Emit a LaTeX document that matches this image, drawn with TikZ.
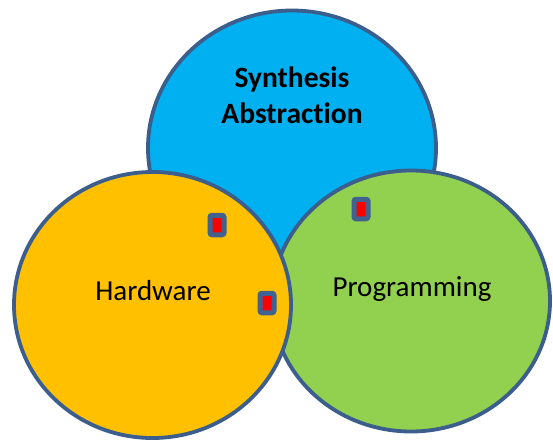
\documentclass[tikz,border=0pt]{standalone}
\usepackage{fontspec}
\setmainfont[Ligatures=NoCommon]{Carlito}
\usetikzlibrary{shapes.geometric}
\definecolor{edge}{HTML}{3B5E8C}
\definecolor{cblue}{HTML}{00B0F0}
\definecolor{corange}{HTML}{FFC000}
\definecolor{cgreen}{HTML}{92D050}
\definecolor{cmark}{HTML}{41618F}
\definecolor{cred}{HTML}{FF0000}
\begin{document}
\begin{tikzpicture}[x=1pt,y=-1pt,
  setshape/.style={ellipse, draw=edge, line width=3.8pt, inner sep=0pt},
  marker/.style={rectangle, rounded corners=2pt, draw=cmark, fill=cred, line width=5pt,
     minimum width=14pt, minimum height=19.5pt, inner sep=0pt},
  lbl/.style={font=\fontsize{29}{32}\selectfont, inner sep=0pt, anchor=base},
  blbl/.style={font=\bfseries\fontsize{29.5}{35.5}\selectfont, align=center, inner sep=0pt, anchor=base}]
\useasboundingbox (0,0) rectangle (553,442);
\node[setshape, fill=cblue, minimum width=288pt, minimum height=275pt] (syn) at (292,148) {};
\node[setshape, fill=cgreen, minimum width=278pt, minimum height=261pt] (prog) at (411,301) {};
\node[setshape, fill=corange, minimum width=277pt, minimum height=266pt] (hw) at (152.5,305) {};
\node[blbl] (syntxt) at (292,123) {Synthesis\\Abstraction};
\node[lbl] (hwtxt) at (153,300.5) {Hardware};
\node[lbl] (progtxt) at (412,296) {Programming};
\node[marker] (m1) at (217,225) {};
\node[marker] (m2) at (267,303) {};
\node[marker] (m3) at (361,209) {};
\end{tikzpicture}
\end{document}
